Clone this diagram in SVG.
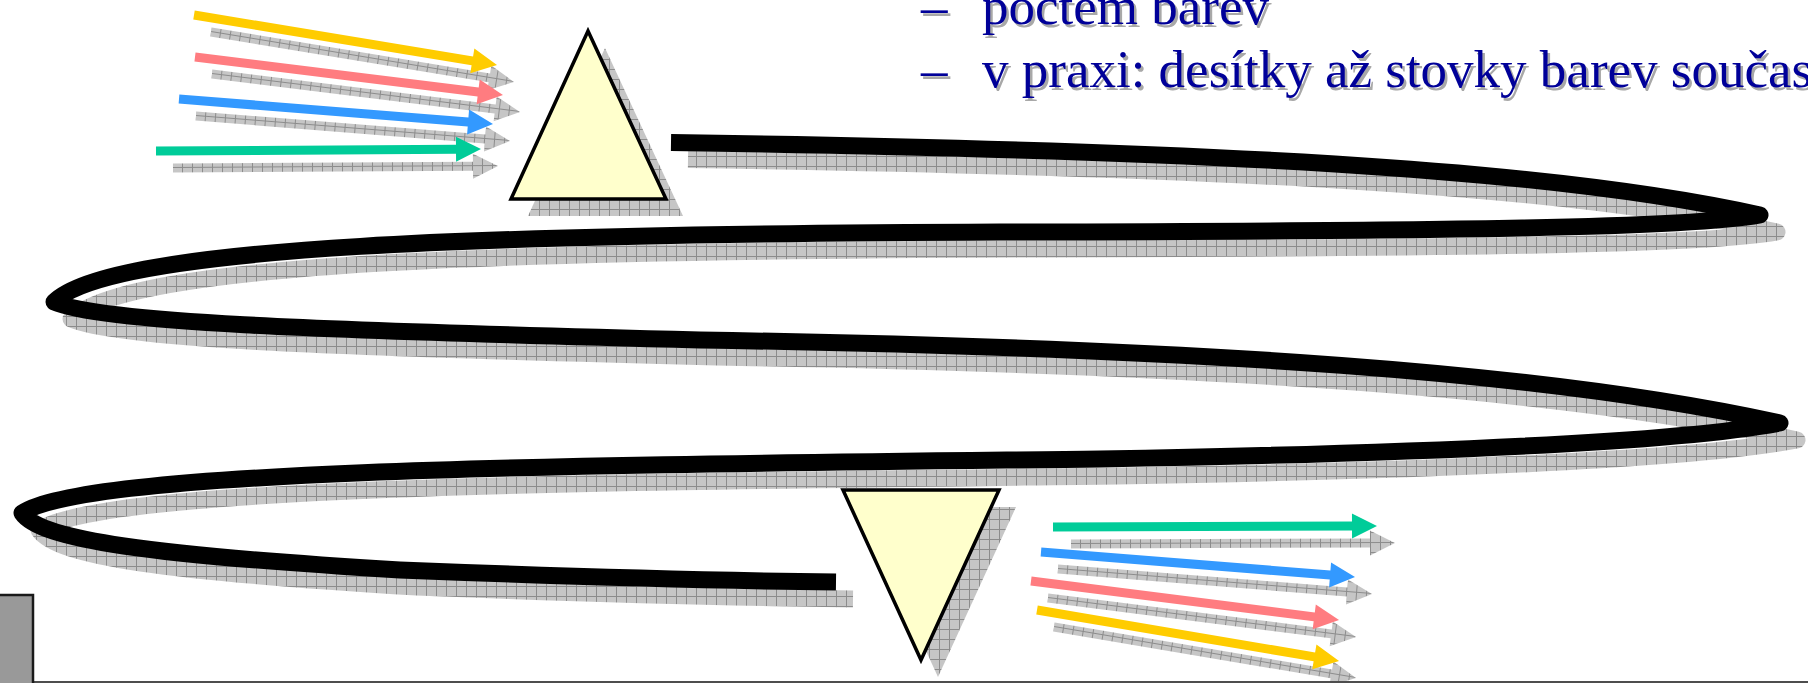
<svg xmlns="http://www.w3.org/2000/svg" xmlns:xlink="http://www.w3.org/1999/xlink" width="1808" height="683" viewBox="0 0 1808 683">
<style>
.txt{font-family:"Liberation Serif","Times New Roman",serif;font-size:53px;fill:#000099}
.txs{font-family:"Liberation Serif","Times New Roman",serif;font-size:53px;fill:#a8a8a8}
.shd{fill:url(#hatch)}
.fib{fill:none;stroke:#000;stroke-width:17;stroke-linejoin:round;stroke-linecap:butt}
.fibs{fill:none;stroke:url(#hatch);stroke-width:17;stroke-linejoin:round;stroke-linecap:butt}
.prism{fill:#FFFFCC;stroke:#000;stroke-width:3.5;stroke-linejoin:miter}
</style>
<defs>
<pattern id="hatch" width="10" height="10" patternUnits="userSpaceOnUse">
<rect width="10" height="10" fill="#c6c6c6"/>
<path d="M9.5,0V10M0,9.5H10" stroke="#8c8c8c" stroke-width="1"/>
</pattern>
<polygon id="aY1" points="0,-4.5 282.1,-4.5 282.1,-12.5 307.1,0 282.1,12.5 282.1,4.5 0,4.5"/>
<polygon id="aP1" points="0,-4.5 285.3,-4.5 285.3,-12.5 310.3,0 285.3,12.5 285.3,4.5 0,4.5"/>
<polygon id="aB1" points="0,-4.5 290,-4.5 290,-12.5 315,0 290,12.5 290,4.5 0,4.5"/>
<polygon id="aG1" points="0,-4.5 300,-4.5 300,-12.5 325,0 300,12.5 300,4.5 0,4.5"/>
<polygon id="aG2" points="0,-4.5 299,-4.5 299,-12.5 324,0 299,12.5 299,4.5 0,4.5"/>
<polygon id="aB2" points="0,-4.5 290,-4.5 290,-12.5 315,0 290,12.5 290,4.5 0,4.5"/>
<polygon id="aP2" points="0,-4.5 285.5,-4.5 285.5,-12.5 310.5,0 285.5,12.5 285.5,4.5 0,4.5"/>
<polygon id="aY2" points="0,-4.5 281.3,-4.5 281.3,-12.5 306.3,0 281.3,12.5 281.3,4.5 0,4.5"/>
<path id="fiberPath" d="M671,142.5 C1200,150 1550,168 1760,215 C1690,228 1450,231 1000,232 C500,234 110,245 54,302 C100,322 300,330 700,340 C1200,348 1550,372 1780,423 C1700,438 1500,452 1100,459 C600,465 90,468 22,513 C40,540 150,555 400,570 C600,578 750,581 836,582"/>
</defs>
<rect width="1808" height="683" fill="#fff"/>

<g id="text">
<text class="txs" x="923.5" y="26.5">–</text>
<text class="txs" x="984.5" y="26.5">počtem barev</text>
<text class="txs" x="923.5" y="89.5">–</text>
<text class="txs" x="984.5" y="89.5">v praxi: desítky až stovky barev současně</text>
<text class="txt" x="921" y="24">–</text>
<text class="txt" x="982" y="24">počtem barev</text>
<text class="txt" x="921" y="87">–</text>
<text class="txt" x="982" y="87">v praxi: desítky až stovky barev současně</text>
</g>

<g id="connectors">
<g id="arrows-in">
<use href="#aY1" class="shd" transform="translate(211,32) rotate(9.37)"/>
<use href="#aP1" class="shd" transform="translate(212,74) rotate(7.03)"/>
<use href="#aB1" class="shd" transform="translate(196,116) rotate(4.55)"/>
<use href="#aG1" class="shd" transform="translate(173,168) rotate(-0.35)"/>
<use href="#aY1" fill="#FFCC00" transform="translate(194,15) rotate(9.37)"/>
<use href="#aP1" fill="#FF7C80" transform="translate(195,57) rotate(7.03)"/>
<use href="#aB1" fill="#3399FF" transform="translate(179,99) rotate(4.55)"/>
<use href="#aG1" fill="#00CC99" transform="translate(156,151) rotate(-0.35)"/>
</g>
<g id="arrows-out">
<use href="#aG2" class="shd" transform="translate(1071,544) rotate(-0.18)"/>
<use href="#aB2" class="shd" transform="translate(1058,569) rotate(4.55)"/>
<use href="#aP2" class="shd" transform="translate(1048,598) rotate(7.22)"/>
<use href="#aY2" class="shd" transform="translate(1054,627) rotate(9.59)"/>
<use href="#aG2" fill="#00CC99" transform="translate(1053,527) rotate(-0.18)"/>
<use href="#aB2" fill="#3399FF" transform="translate(1041,552) rotate(4.55)"/>
<use href="#aP2" fill="#FF7C80" transform="translate(1031,581) rotate(7.22)"/>
<use href="#aY2" fill="#FFCC00" transform="translate(1037,610) rotate(9.59)"/>
</g>
</g>

<g id="fiber">
<use href="#fiberPath" class="fibs" transform="translate(17,17)"/>
<use href="#fiberPath" class="fib"/>
</g>

<g id="prism-in">
<polygon class="shd" points="605,48 528,216 683,216"/>
<polygon class="prism" points="588,31 511,199 666,199"/>
</g>

<g id="prism-out">
<polygon class="shd" points="860,507 1016,507 938,677"/>
<polygon class="prism" points="843,490 999,490 921,660"/>
</g>

<g id="frame">
<line x1="0" y1="682" x2="1808" y2="682" stroke="#4d4d4d" stroke-width="2"/>
<rect x="-5" y="595" width="38" height="95" fill="#999999" stroke="#1a1a1a" stroke-width="2.5"/>
</g>
</svg>
